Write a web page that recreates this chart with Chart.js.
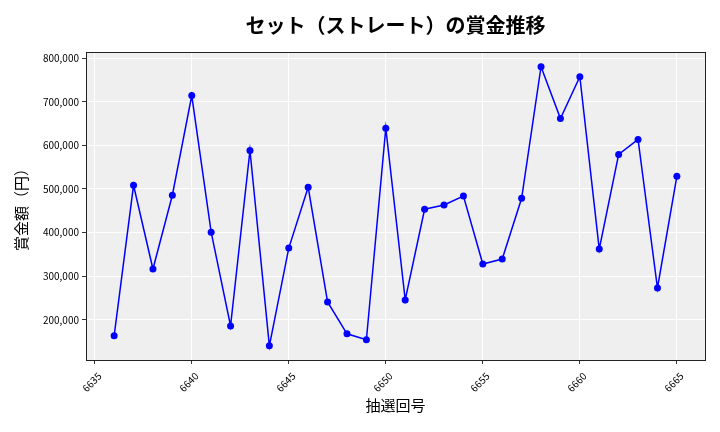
<!DOCTYPE html>
<html>
<head>
<meta charset="utf-8">
<script src="https://cdn.jsdelivr.net/npm/chart.js@4.4.1/dist/chart.umd.min.js"></script>
<style>
  html, body { margin: 0; padding: 0; background: #fff; }
</style>
</head>
<body>
<canvas id="chart" width="720" height="432"></canvas>
<script>
// draw numbers (抽選回号) and prize amounts
const draws = [6636, 6637, 6638, 6639, 6640, 6641, 6642, 6643, 6644, 6645,
  6646, 6647, 6648, 6649, 6650, 6651, 6652, 6653, 6654, 6655,
  6656, 6657, 6658, 6659, 6660, 6661, 6662, 6663, 6664, 6665];
const prizes = [163400, 508400, 316500, 485600, 714100, 401000, 186200, 588400, 140500, 364500,
  503900, 241100, 168000, 154300, 639400, 245700, 453600, 463400, 484000, 327900,
  339300, 478700, 780300, 661500, 757500, 362200, 579300, 613500, 273100, 529000];
const xTicks = [6635, 6640, 6645, 6650, 6655, 6660, 6665];
const yTicks = [200000, 300000, 400000, 500000, 600000, 700000, 800000];
const chartTitle = 'セット（ストレート）の賞金推移';

const FONT = "'Noto Sans CJK JP', 'DejaVu Sans', sans-serif";

// grey plot background, frame and a title centred over the axes (matplotlib style)
const frame = {
  id: 'frame',
  beforeDraw(chart) {
    const { ctx, chartArea: a } = chart;
    ctx.save();
    ctx.fillStyle = '#efefef';
    ctx.fillRect(a.left, a.top, a.right - a.left, a.bottom - a.top);
    ctx.restore();
  },
  afterDraw(chart) {
    const { ctx, chartArea: a } = chart;
    ctx.save();
    ctx.strokeStyle = '#222';
    ctx.lineWidth = 1;
    ctx.strokeRect(Math.round(a.left) + 0.5, Math.round(a.top) + 0.5,
      Math.round(a.right - a.left), Math.round(a.bottom - a.top));
    ctx.fillStyle = '#000';
    ctx.font = 'bold 20px ' + FONT;
    ctx.textAlign = 'center';
    ctx.textBaseline = 'middle';
    ctx.fillText(chartTitle, (a.left + a.right) / 2, 25);
    ctx.restore();
  }
};

new Chart(document.getElementById('chart').getContext('2d'), {
  type: 'line',
  data: {
    datasets: [{
      data: draws.map((d, i) => ({ x: d, y: prizes[i] })),
      borderColor: '#0000ff',
      backgroundColor: '#0000ff',
      pointBackgroundColor: '#0000ff',
      pointBorderWidth: 0,
      pointRadius: 3.5,
      borderWidth: 1.5,
      tension: 0,
    }],
  },
  options: {
    responsive: false,
    animation: false,
    layout: { padding: { left: 0, right: 15, top: 52, bottom: 0 } },
    plugins: {
      legend: { display: false },
      tooltip: { enabled: false },
      title: { display: false },
    },
    scales: {
      x: {
        type: 'linear',
        min: 6634.55,
        max: 6666.45,
        afterFit: (s) => { s.height = 72; },
        afterBuildTicks: (s) => { s.ticks = xTicks.map(v => ({ value: v })); },
        ticks: {
          color: '#000',
          font: { family: FONT, size: 10 },
          minRotation: 45,
          maxRotation: 45,
          padding: 6,
          labelOffset: 5,
          callback: (v) => String(v),
        },
        grid: { color: '#ffffff', lineWidth: 1, tickColor: '#333', tickLength: 4 },
        border: { display: false },
        title: {
          display: true,
          text: '抽選回号',
          color: '#000',
          font: { family: FONT, size: 15 },
          padding: { top: 0, bottom: 17.5 },
        },
      },
      y: {
        type: 'linear',
        min: 108000,
        max: 814000,
        afterFit: (s) => { s.width = 86; },
        afterBuildTicks: (s) => { s.ticks = yTicks.map(v => ({ value: v })); },
        ticks: {
          color: '#000',
          font: { family: FONT, size: 10 },
          padding: 3,
          callback: (v) => v.toLocaleString('en-US'),
        },
        grid: { color: '#ffffff', lineWidth: 1, tickColor: '#333', tickLength: 4 },
        border: { display: false },
        title: {
          display: true,
          text: '賞金額（円）',
          color: '#000',
          font: { family: FONT, size: 15 },
          padding: { top: 12.5, bottom: 0 },
        },
      },
    },
  },
  plugins: [frame],
});
</script>
</body>
</html>
